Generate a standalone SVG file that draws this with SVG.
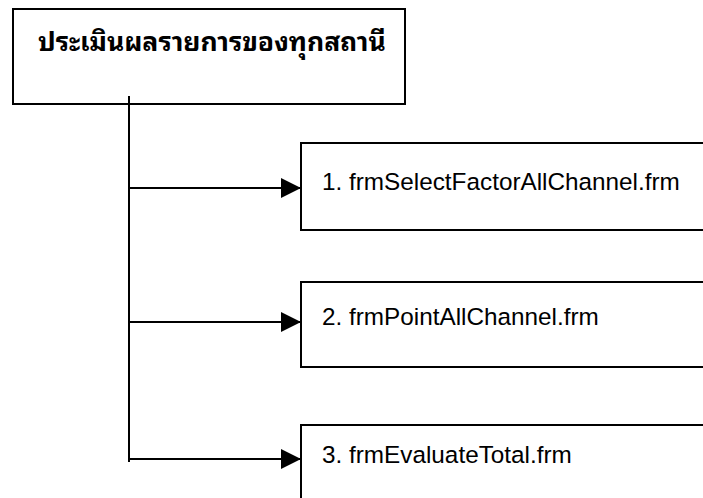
<svg xmlns="http://www.w3.org/2000/svg" width="703" height="498" viewBox="0 0 703 498">
<style>
.box{fill:#fff;stroke:#000;stroke-width:2}
.ln{stroke:#000;stroke-width:2;fill:none}
.lbl{font-family:"Liberation Sans",Arial,sans-serif;font-size:24.3px;fill:#000}
.th{font-family:Tahoma,"Noto Sans Thai Looped","Loma","Garuda","Noto Sans Thai","Noto Sans","DejaVu Sans",sans-serif;font-size:26.5px;font-weight:bold;fill:#000}
</style>
<defs>
<marker id="ah" markerWidth="10" markerHeight="10" refX="10" refY="5" orient="auto" markerUnits="strokeWidth">
<path d="M0,0 L10,5 L0,10 Z" fill="#000"/>
</marker>
</defs>
<rect width="703" height="498" fill="#fff"/>
<g id="root">
<rect class="box" x="13" y="9" width="392" height="95"/>
<text class="th" x="38" y="51">ประเมินผลรายการของทุกสถานี</text>
</g>
<g id="n1">
<rect class="box" x="301" y="143" width="420" height="87"/>
<text class="lbl" x="322" y="190">1. frmSelectFactorAllChannel.frm</text>
</g>
<g id="n2">
<rect class="box" x="301" y="282" width="420" height="85"/>
<text class="lbl" x="322" y="325">2. frmPointAllChannel.frm</text>
</g>
<g id="n3">
<rect class="box" x="301" y="425" width="420" height="90"/>
<text class="lbl" x="322" y="463">3. frmEvaluateTotal.frm</text>
</g>
<g id="connectors">
<line class="ln" x1="129" y1="96" x2="129" y2="462"/>
<line class="ln" x1="129" y1="188" x2="301" y2="188" marker-end="url(#ah)"/>
<line class="ln" x1="129" y1="322" x2="301" y2="322" marker-end="url(#ah)"/>
<line class="ln" x1="129" y1="459" x2="301" y2="459" marker-end="url(#ah)"/>
</g>
</svg>
